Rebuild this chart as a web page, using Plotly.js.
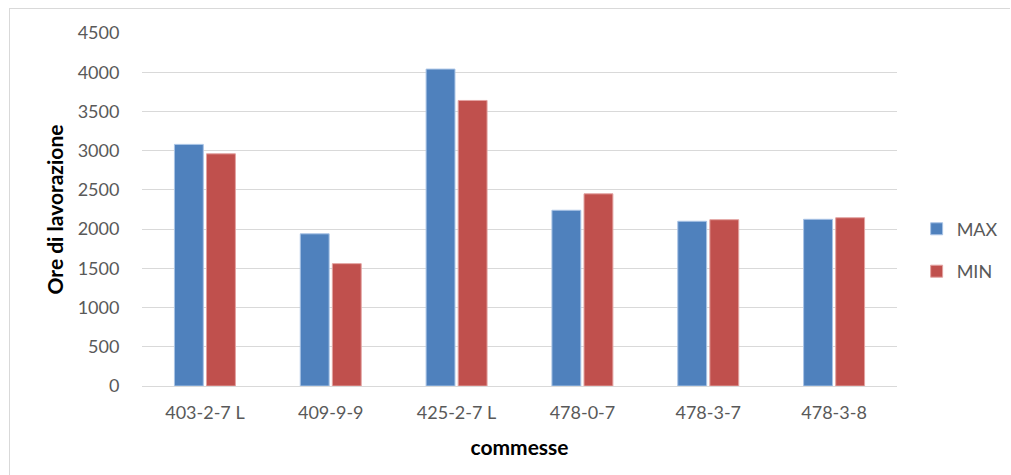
<!DOCTYPE html>
<html>
<head>
<meta charset="utf-8">
<script src="https://cdn.plot.ly/plotly-3.0.1.min.js"></script>
<style>
html,body{margin:0;padding:0;background:#fff;}
#wrap{position:relative;width:1011px;height:475px;}
#chart{width:1011px;height:475px;}
#frame{position:absolute;left:9px;top:8px;right:1px;bottom:-5px;border-left:1px solid #d9d9d9;border-top:1px solid #d9d9d9;pointer-events:none;}
</style>
</head>
<body>
<div id="wrap"><div id="chart"></div><div id="frame"></div></div>
<script>
const categories = ["403-2-7 L", "409-9-9", "425-2-7 L", "478-0-7", "478-3-7", "478-3-8"];
const maxValues = [3080, 1940, 4040, 2240, 2100, 2125];
const minValues = [2960, 1560, 3640, 2450, 2120, 2145];
const yTicks = [0, 500, 1000, 1500, 2000, 2500, 3000, 3500, 4000, 4500];

const font = "Lato, 'Open Sans', sans-serif";
const traces = [
  {type:'bar', name:'MAX', x:categories, y:maxValues, legendgroup:'a',
   marker:{color:'#4f81bd', line:{color:'#a9c4e6', width:1}}},
  {type:'bar', name:'MIN', x:categories, y:minValues, legendgroup:'b',
   marker:{color:'#c0504d', line:{color:'#e3a3a1', width:1}}}
];
const layout = {
  width:1011, height:475,
  margin:{l:142, r:114, t:33, b:89, autoexpand:false},
  paper_bgcolor:'#fff', plot_bgcolor:'#fff',
  barmode:'group', bargap:0.49, bargroupgap:0.1,
  font:{family:font, size:18, color:'#595959'},
  xaxis:{
    type:'category', showgrid:false, showline:true, linecolor:'#d9d9d9', linewidth:1,
    ticks:'outside', ticklen:10, tickcolor:'rgba(0,0,0,0)',
    tickfont:{family:font, size:18, color:'#595959'},
    title:{text:'commesse', font:{family:font, size:21, color:'#000', weight:'bold'}, standoff:18}
  },
  yaxis:{
    range:[0,4500], tickvals:yTicks, ticktext:yTicks.map(String),
    showgrid:true, gridcolor:'#d9d9d9', gridwidth:1, zeroline:false, showline:false,
    ticks:'outside', ticklen:18, tickcolor:'rgba(0,0,0,0)',
    tickfont:{family:font, size:18, color:'#595959'},
    title:{text:'Ore di lavorazione', font:{family:font, size:21, color:'#000', weight:'bold'}, standoff:8}
  },
  legend:{x:1.026, xanchor:'left', y:0.385, yanchor:'middle', traceorder:'grouped', tracegroupgap:16,
    font:{family:font, size:18, color:'#595959'}, itemwidth:30},
  showlegend:true
};
Plotly.newPlot('chart', traces, layout, {displayModeBar:false, staticPlot:true});
</script>
</body>
</html>
